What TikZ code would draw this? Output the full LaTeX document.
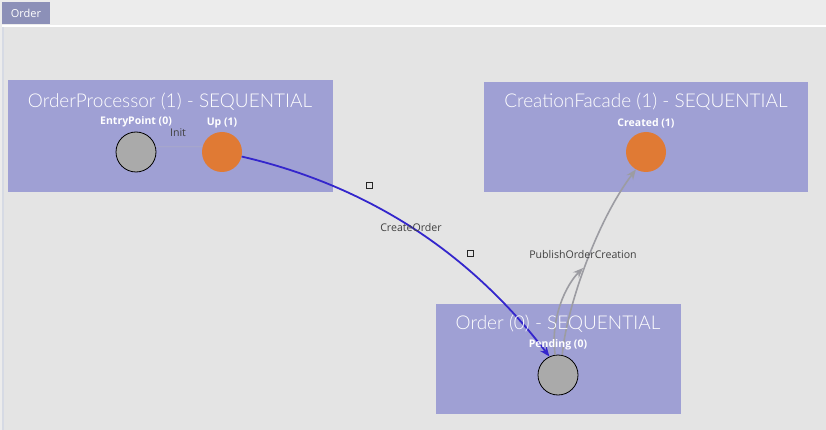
\documentclass[tikz,border=0pt]{standalone}
\usepackage{fontspec}
\setmainfont{Open Sans}
\newfontfamily\lightfont{Lato}[UprightFont={* Light}]
\usetikzlibrary{arrows.meta}
\definecolor{outerbg}{RGB}{236,236,236}
\definecolor{canvasbg}{RGB}{228,228,228}
\definecolor{leftbd}{RGB}{214,218,228}
\definecolor{tabbg}{RGB}{140,144,184}
\definecolor{boxbg}{RGB}{159,160,212}
\definecolor{orangec}{RGB}{224,122,52}
\definecolor{greyc}{RGB}{170,170,170}
\definecolor{bluel}{RGB}{52,38,204}
\definecolor{greyl}{RGB}{156,156,162}
\definecolor{labelc}{RGB}{64,64,64}
\definecolor{initl}{RGB}{170,170,200}
\tikzset{
  tabnode/.style={fill=tabbg, text=white, inner sep=0pt, minimum width=48pt, minimum height=22pt, font=\fontsize{11}{13}\selectfont},
  statebox/.style={fill=boxbg, inner sep=0pt},
  boxtitle/.style={text=white, inner sep=0pt, font=\lightfont\fontsize{19}{23}\selectfont},
  statelabel/.style={text=white, inner sep=0pt, font=\fontsize{10.5}{12}\selectfont\bfseries},
  greystate/.style={circle, fill=greyc, draw=black, line width=0.8pt, minimum size=40pt, inner sep=0pt},
  orangestate/.style={circle, fill=orangec, minimum size=40pt, inner sep=0pt},
  edgelabel/.style={text=labelc, inner sep=0pt, font=\fontsize{10.6}{12}\selectfont},
  ctrlpt/.style={draw=black!85, line width=1pt, minimum size=6pt, inner sep=0pt},
  blueedge/.style={draw=bluel, line width=1.8pt, -{Stealth[length=10pt,width=8pt]}},
  greyedge/.style={draw=greyl, line width=1.6pt, -{Stealth[length=10pt,width=8pt]}},
  initedge/.style={draw=initl, line width=0.8pt},
}
\begin{document}
\begin{tikzpicture}[x=1pt,y=-1pt]
\useasboundingbox (0,0) rectangle (826,430);
\fill[outerbg] (0,0) rectangle (826,430);
\fill[white] (2,25) rectangle (826,27.5);
\fill[canvasbg] (4,27.5) rectangle (826,430);
\fill[leftbd] (2,27.5) rectangle (4,430);
\node[tabnode] (tab) at (26,13.5) {Order};

% boxes
\node[statebox, minimum width=325pt, minimum height=112pt] (opbox) at (170.5,136) {};
\node[statebox, minimum width=324pt, minimum height=110pt] (cfbox) at (646,137) {};
\node[statebox, minimum width=245pt, minimum height=110pt] (obox) at (558.5,359) {};

\node[greystate] (entry) at (136,152) {};
\node[orangestate] (up) at (222,152) {};
\node[orangestate] (created) at (646,152) {};
\node[greystate] (pending) at (558,375) {};

% Init
\draw[initedge] (entry.15) -- (up.165);

% CreateOrder
\node[ctrlpt] (c1) at (369,186) {};
\node[ctrlpt] (c2) at (470,253) {};
\draw[blueedge] (up) .. controls (c1.center) and (c2.center) .. (pending.115);

% PublishOrderCreation
\coordinate (pm) at (583,268);
\draw[greyedge] (pending.98) .. controls (550,318) and (566,285) .. (pm);
\draw[greyedge] (pending.78) .. controls (566,310) and (596,222) .. (created.240);

% texts
\node[boxtitle] (optitle) at (170,102) {OrderProcessor (1) - SEQUENTIAL};
\node[boxtitle] (cftitle) at (646,102) {CreationFacade (1) - SEQUENTIAL};
\node[boxtitle] (otitle) at (558,324) {Order (0) - SEQUENTIAL};

\node[statelabel] (entrylab) at (136,122) {EntryPoint (0)};
\node[statelabel] (uplab) at (222,123) {Up (1)};
\node[statelabel] (createdlab) at (646,123) {Created (1)};
\node[statelabel] (pendinglab) at (558,345) {Pending (0)};

\node[edgelabel] (initlab) at (178,133) {Init};
\node[edgelabel] (colab) at (411,228) {CreateOrder};
\node[edgelabel] (pblab) at (583,255) {PublishOrderCreation};
\end{tikzpicture}
\end{document}
